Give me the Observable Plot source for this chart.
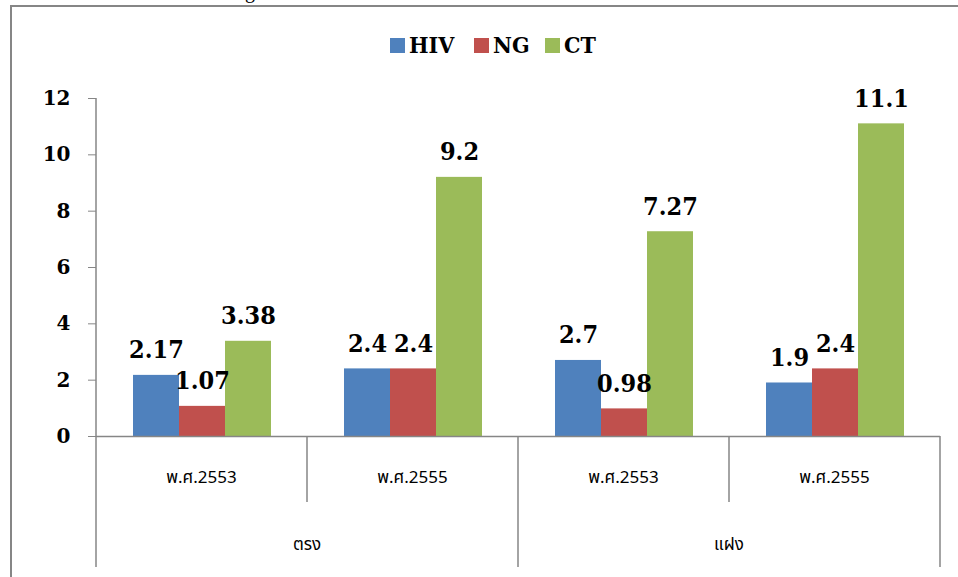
<!DOCTYPE html>
<html>
<head>
<meta charset="utf-8">
<script src="https://cdn.jsdelivr.net/npm/d3@7"></script>
<script src="https://cdn.jsdelivr.net/npm/@observablehq/plot@0.6"></script>
<style>
  html, body { margin: 0; padding: 0; background: #fff; }
  #wrap { position: relative; width: 958px; height: 577px; overflow: hidden; }
  #frame { position: absolute; left: 10px; top: 5px; width: 960px; height: 600px;
           border-left: 2px solid #868686; border-top: 2px solid #868686; box-sizing: border-box; }
  #frag { position: absolute; left: 245px; top: -19px; font: 20px "Liberation Serif", serif; line-height: 20px; }
  #legend { position: absolute; top: 0; left: 0; width: 958px; height: 80px;
            font: bold 23px "DejaVu Serif Condensed", "DejaVu Serif", serif; }
  .sw { position: absolute; width: 15px; height: 15px; top: 38px; }
  .lt { position: absolute; top: 31px; line-height: 28px; }
  #chart { position: absolute; left: 0; top: 0; }
</style>
</head>
<body>
<div id="wrap">
  <div id="frag">g</div>
  <div id="frame"></div>
  <div id="chart"></div>
  <div id="legend"></div>
</div>
<script>
// ---- data ----
const groups = ["ตรง", "ตรง", "แฝง", "แฝง"];
const years = ["พ.ศ.2553", "พ.ศ.2555", "พ.ศ.2553", "พ.ศ.2555"];
const series = ["HIV", "NG", "CT"];
const hivValues = [2.17, 2.4, 2.7, 1.9];
const ngValues = [1.07, 2.4, 0.98, 2.4];
const ctValues = [3.38, 9.2, 7.27, 11.1];
const yTicks = [0, 2, 4, 6, 8, 10, 12];
const colors = ["#4F81BD", "#C0504D", "#9BBB59"];

const keys = groups.map((g, i) => g + "|" + years[i]);
const valuesBySeries = [hivValues, ngValues, ctValues];
const rows = [];
keys.forEach((k, i) => series.forEach((s, j) => rows.push({key: k, series: s, value: valuesBySeries[j][i]})));

const plot = Plot.plot({
  width: 958,
  height: 577,
  marginLeft: 95,
  marginRight: 18,
  marginTop: 98,
  marginBottom: 141,
  style: {background: "transparent", overflow: "visible"},
  fx: {domain: keys, padding: 0, axis: null},
  x: {domain: series, paddingInner: 0, paddingOuter: 0.76, axis: null},
  y: {domain: [0, 12], axis: null},
  color: {domain: series, range: colors},
  marks: [
    Plot.axisY({ticks: yTicks, tickSize: 8, tickPadding: 18, stroke: "#868686", fill: "black",
                fontSize: 20, fontWeight: "bold", fontFamily: "DejaVu Serif", label: null}),
    Plot.barY(rows, {fx: "key", x: "series", y: "value", fill: "series"}),
    Plot.ruleY([0], {stroke: "#868686", strokeWidth: 1.5}),
    Plot.text(rows, {fx: "key", x: "series", y: "value", text: d => String(d.value),
                     lineAnchor: "bottom", dy: -17, fontSize: 25, fontWeight: "bold",
                     fontFamily: "DejaVu Serif Condensed, DejaVu Serif", fill: "black"})
  ]
});
document.getElementById("chart").appendChild(plot);

// ---- categorical axis below, built from the plot's scales ----
const fx = plot.scale("fx");
const y = plot.scale("y");
const bw = fx.bandwidth;
const svg = d3.select(plot);
const y0 = y.apply(0);
const yBottom = y0 + 131;
const yMid = y0 + 66;
const g = svg.append("g").attr("stroke", "#868686").attr("stroke-width", 1.5);
const x0 = fx.apply(keys[0]);
g.append("line").attr("x1", x0).attr("x2", x0).attr("y1", y.apply(12)).attr("y2", yBottom);
keys.forEach((k, i) => {
  const xr = fx.apply(k) + bw;
  const last = i === keys.length - 1 || groups[i + 1] !== groups[i];
  g.append("line").attr("x1", xr).attr("x2", xr).attr("y1", y0).attr("y2", last ? yBottom : yMid);
});
const t = svg.append("g").attr("font-family", "Tahoma, 'Noto Sans Thai', 'Noto Sans', 'DejaVu Sans', sans-serif")
  .attr("font-size", 17).attr("text-anchor", "middle").attr("fill", "black");
keys.forEach((k, i) => {
  t.append("text").attr("x", fx.apply(k) + bw / 2).attr("y", y0 + 41).attr("dy", "0.35em").text(years[i]);
});
const uniqueGroups = [...new Set(groups)];
uniqueGroups.forEach(gr => {
  const ks = keys.filter((k, i) => groups[i] === gr);
  const xa = fx.apply(ks[0]), xb = fx.apply(ks[ks.length - 1]) + bw;
  t.append("text").attr("x", (xa + xb) / 2).attr("y", y0 + 108).attr("dy", "0.35em").text(gr);
});

// ---- legend ----
const leg = document.getElementById("legend");
const legX = [390, 474, 545];
series.forEach((s, i) => {
  const sw = document.createElement("span");
  sw.className = "sw";
  sw.style.left = legX[i] + "px";
  sw.style.background = colors[i];
  const lt = document.createElement("span");
  lt.className = "lt";
  lt.style.left = (legX[i] + 19) + "px";
  lt.textContent = s;
  leg.appendChild(sw);
  leg.appendChild(lt);
});
</script>
</body>
</html>
